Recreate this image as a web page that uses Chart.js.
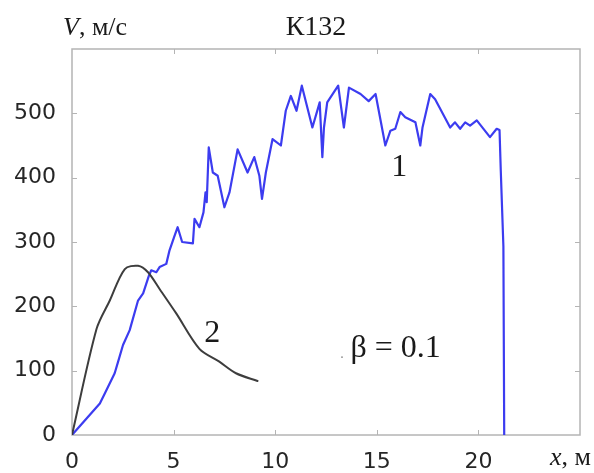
<!DOCTYPE html>
<html>
<head>
<meta charset="utf-8">
<script src="https://cdn.jsdelivr.net/npm/chart.js@4"></script>
<style>
  body { margin: 0; background: #fff; }
  canvas { display: block; }
</style>
</head>
<body>
<canvas id="chart" width="594" height="473"></canvas>
<script>
// curve 1: velocity along the barrel
const blueX = [0, 1.37, 1.62, 2.1, 2.27, 2.51, 2.84, 3.25, 3.5, 3.79, 3.9, 4.15, 4.31, 4.64, 4.8, 5.05, 5.2, 5.42, 5.95, 6.03,
  6.27, 6.47, 6.57, 6.63, 6.73, 6.93, 7.17, 7.5, 7.75, 8.15, 8.64, 8.97, 9.22, 9.35, 9.54, 9.87, 10.28, 10.52, 10.77, 11.05,
  11.31, 11.83, 12.19, 12.32, 12.4, 12.56, 13.1, 13.38, 13.63, 14.2, 14.6, 14.94, 15.42, 15.67, 15.91, 16.16, 16.4, 16.9,
  17.14, 17.25, 17.63, 17.87, 18.61, 18.85, 19.1, 19.35, 19.59, 19.92, 20.57, 20.9, 21.04, 21.1, 21.23, 21.27];
const blueY = [0, 49, 65, 96, 114, 140, 163, 209, 220, 248, 256, 253, 261, 266, 287, 310, 323, 300, 298, 336,
  323, 346, 377, 362, 447, 408, 403, 354, 377, 444, 408, 432, 403, 367, 408, 460, 450, 504, 527, 504,
  543, 478, 517, 432, 478, 517, 543, 478, 540, 530, 519, 530, 450, 473, 476, 502, 494, 486,
  450, 478, 530, 522, 478, 486, 476, 486, 481, 489, 463, 476, 474, 412, 293, 0];

// curve 2
const grayX = [0, 1.21, 1.86, 2.6, 3.25, 3.74, 4.31, 5.13, 6.27, 7.25, 8.07, 9.13];
const grayY = [0, 165, 209, 258, 263, 253, 227, 189, 134, 114, 96, 84];

const xTicks = [0, 5, 10, 15, 20];
const yTicks = [0, 100, 200, 300, 400, 500];

const toPoints = (xs, ys) => xs.map((x, i) => ({ x: x, y: ys[i] }));

const frameColor = '#b4b4b4';
const serif = '"Liberation Serif", "Times New Roman", serif';
const tickFont = { family: '"DejaVu Sans", Verdana, sans-serif', size: 22 };

// box around the plot with short inward ticks, plus captions
const framePlugin = {
  id: 'frame',
  beforeDatasetsDraw(chart) {
    const { ctx, chartArea: a, scales: { x, y } } = chart;
    ctx.save();
    ctx.strokeStyle = frameColor;
    ctx.lineWidth = 1.5;
    ctx.strokeRect(a.left, a.top, a.right - a.left, a.bottom - a.top);
    ctx.lineWidth = 1;
    xTicks.slice(1).forEach(v => {
      const px = Math.round(x.getPixelForValue(v)) + 0.5;
      ctx.beginPath();
      ctx.moveTo(px, a.bottom); ctx.lineTo(px, a.bottom - 5);
      ctx.moveTo(px, a.top); ctx.lineTo(px, a.top + 5);
      ctx.stroke();
    });
    yTicks.slice(1).forEach(v => {
      const py = Math.round(y.getPixelForValue(v)) + 0.5;
      ctx.beginPath();
      ctx.moveTo(a.left, py); ctx.lineTo(a.left + 5, py);
      ctx.moveTo(a.right, py); ctx.lineTo(a.right - 5, py);
      ctx.stroke();
    });
    ctx.restore();
  },
  afterDraw(chart) {
    const { ctx, scales: { x, y } } = chart;
    ctx.save();
    ctx.fillStyle = '#1a1a1a';
    ctx.textBaseline = 'alphabetic';

    // y axis title: italic V, then units
    ctx.textAlign = 'left';
    ctx.font = 'italic 26px ' + serif;
    ctx.fillText('V', 63, 35);
    const vw = ctx.measureText('V').width;
    ctx.font = '26px ' + serif;
    ctx.fillText(', м/с', 63 + vw, 35);

    // title
    ctx.textAlign = 'center';
    ctx.font = '28px ' + serif;
    ctx.fillText('К132', 316, 35);

    // x axis title
    ctx.textAlign = 'left';
    ctx.font = 'italic 26px ' + serif;
    ctx.fillText('x', 550, 465);
    const xw = ctx.measureText('x').width;
    ctx.font = '26px ' + serif;
    ctx.fillText(', м', 550 + xw, 465);

    // curve labels
    ctx.textAlign = 'center';
    ctx.font = '32px ' + serif;
    ctx.fillText('1', x.getPixelForValue(16.1), y.getPixelForValue(402));
    ctx.fillText('2', x.getPixelForValue(6.9), y.getPixelForValue(145));

    ctx.textAlign = 'left';
    ctx.fillText('β = 0.1', x.getPixelForValue(13.7), y.getPixelForValue(121));
    ctx.font = '14px ' + serif;
    ctx.fillStyle = '#888';
    ctx.fillText('.', x.getPixelForValue(13.2), y.getPixelForValue(120));
    ctx.restore();
  }
};

new Chart(document.getElementById('chart'), {
  type: 'line',
  data: {
    datasets: [
      {
        data: toPoints(grayX, grayY),
        borderColor: '#3d3d3d',
        borderWidth: 2,
        tension: 0.3
      },
      {
        data: toPoints(blueX, blueY),
        borderColor: '#3c3cf0',
        borderWidth: 2.2
      }
    ]
  },
  options: {
    responsive: false,
    animation: false,
    layout: { padding: { left: 0, top: 49, right: 11, bottom: 0 } },
    elements: {
      point: { radius: 0 },
      line: { tension: 0, borderJoinStyle: 'round', borderCapStyle: 'round' }
    },
    plugins: { legend: { display: false }, tooltip: { enabled: false } },
    scales: {
      x: {
        type: 'linear',
        min: 0,
        max: 25,
        afterFit(scale) { scale.height = 38; },
        grid: { display: false, drawTicks: false },
        border: { display: false },
        ticks: {
          stepSize: 5,
          autoSkip: false,
          maxRotation: 0,
          padding: 14,
          color: '#262626',
          font: tickFont,
          callback: v => xTicks.includes(v) ? String(v) : ''
        }
      },
      y: {
        min: 0,
        max: 600,
        afterFit(scale) { scale.width = 72; },
        grid: { display: false, drawTicks: false },
        border: { display: false },
        ticks: {
          stepSize: 100,
          padding: 16,
          color: '#262626',
          font: tickFont,
          callback: v => yTicks.includes(v) ? String(v) : ''
        }
      }
    }
  },
  plugins: [framePlugin]
});
</script>
</body>
</html>
